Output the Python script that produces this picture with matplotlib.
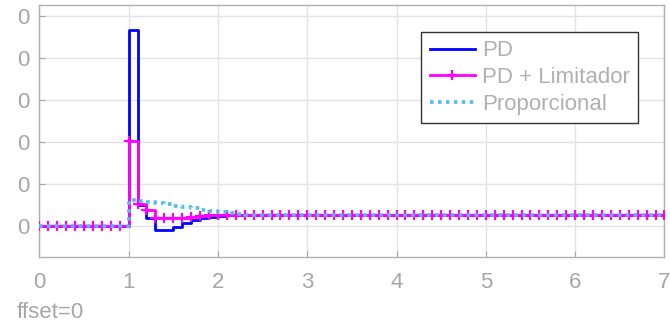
import numpy as np
import matplotlib.pyplot as plt

plt.rcParams["font.family"] = ["Liberation Sans", "DejaVu Sans"]

# sample instants, Ts = 0.1 s
t = np.round(np.arange(0, 7.01, 0.1), 1)

# responses (before step, transient, steady tail)
pd_trans = [4.67, 0.50, 0.19, -0.10, -0.10, -0.02, 0.06, 0.13, 0.18, 0.22, 0.24, 0.25]
lim_trans = [2.02, 0.52, 0.38, 0.20, 0.19, 0.19, 0.20, 0.22, 0.24, 0.25, 0.26, 0.26]
prop_trans = [0.62, 0.60, 0.58, 0.55, 0.52, 0.48, 0.45, 0.42, 0.38, 0.35, 0.32, 0.30, 0.28, 0.27]
steady = 0.26

pd = [0.0] * 10 + pd_trans + [steady] * (len(t) - 10 - len(pd_trans))
pd_lim = [0.0] * 10 + lim_trans + [steady] * (len(t) - 10 - len(lim_trans))
prop = [0.0] * 10 + prop_trans + [steady] * (len(t) - 10 - len(prop_trans))

y_ticks = [0, 1, 2, 3, 4, 5]
y_ticklabels = ["0", "0", "0", "0", "0", "0"]
x_ticks = [0, 1, 2, 3, 4, 5, 6, 7]

grey = "#a6a6a6"
fig = plt.figure(figsize=(6.7, 3.29), dpi=100)
ax = fig.add_axes([0.0587, 0.2188, 0.933, 0.766])

ax.step(t, pd, where="post", color="#0000ff", lw=2.0, label="PD", zorder=3)
ax.step(t, pd_lim, where="post", color="#ff00ff", lw=2.0, marker="+", ms=7, mew=1.6,
        label="PD + Limitador", zorder=4)
ax.step(t, prop, where="post", color="#4dbeee", lw=2.6, ls=(0, (1, 1.2)),
        label="Proporcional", zorder=5)

ax.set_xlim(0, 7)
ax.set_ylim(-0.74, 5.26)
ax.set_xticks(x_ticks)
ax.set_yticks(y_ticks)
ax.set_yticklabels(y_ticklabels)
ax.grid(True, color="#e3e3e3", lw=1.0, zorder=0)
ax.set_axisbelow(True)
ax.tick_params(direction="in", length=4, color=grey, labelcolor=grey, labelsize=16)
ax.tick_params(axis="y", pad=7)
ax.tick_params(axis="x", pad=11)
for s in ax.spines.values():
    s.set_color("#b0b0b0")
    s.set_linewidth(1.0)

leg = ax.legend(loc="upper right", bbox_to_anchor=(0.958, 0.893), fontsize=16,
                frameon=True, fancybox=False, edgecolor="#333333", framealpha=1,
                handlelength=2.05, handletextpad=0.3, labelspacing=0.25,
                borderpad=0.38, borderaxespad=0)
leg.get_frame().set_linewidth(1.0)
for txt in leg.get_texts():
    txt.set_color("#b0b0b0")

fig.text(0.0254, 1 - 318 / 329, "ffset=0", color=grey, fontsize=16, va="baseline")

fig.savefig("out.png", dpi=100)
